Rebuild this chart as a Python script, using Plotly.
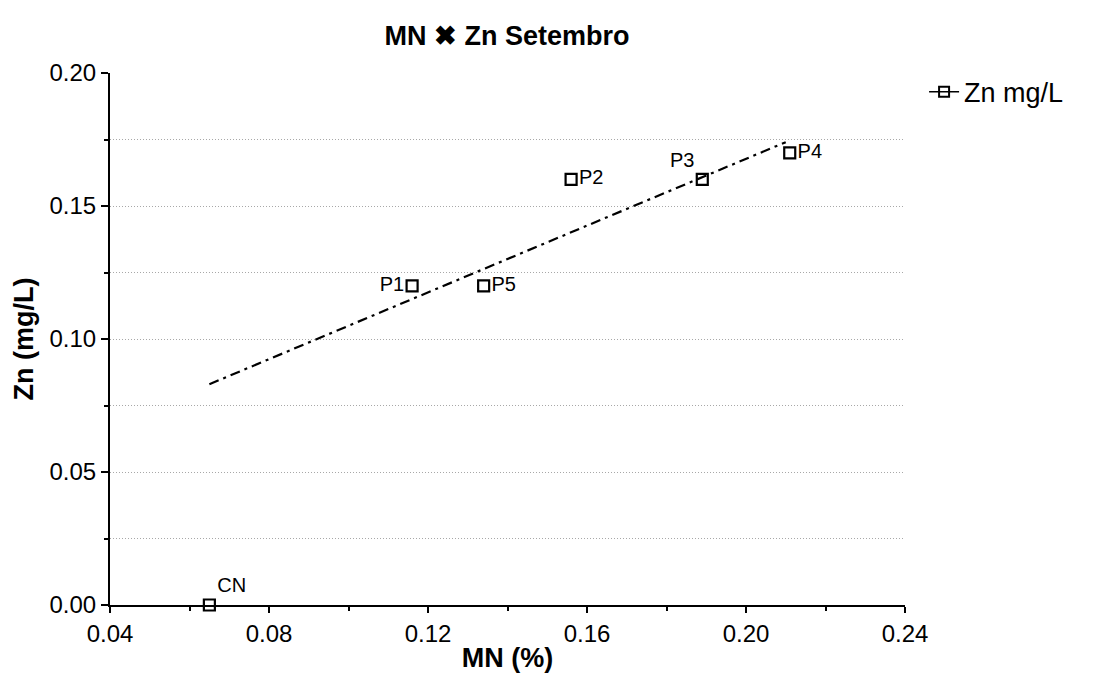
import plotly.graph_objects as go

# Data
labels = ["CN", "P1", "P5", "P2", "P3", "P4"]
mn_pct = [0.065, 0.116, 0.134, 0.156, 0.189, 0.211]
zn_mgl = [0.0, 0.12, 0.12, 0.16, 0.16, 0.17]
trend_x = [0.065, 0.210]
trend_y = [0.083, 0.174]

label_pos = ["top right", "middle left", "middle right", "middle right", "top left", "middle right"]

FONT = "Liberation Sans, Arial, sans-serif"
GRID = "#a8a8a8"

fig = go.Figure()

fig.add_trace(go.Scatter(
    x=trend_x, y=trend_y, mode="lines",
    line=dict(color="black", width=2.2, dash="10px,5px,3px,5px"),
    showlegend=False, hoverinfo="skip", cliponaxis=False,
))

fig.add_trace(go.Scatter(
    x=mn_pct, y=zn_mgl, mode="markers+text",
    text=labels, textposition=label_pos,
    textfont=dict(family=FONT, size=20, color="black"),
    marker=dict(symbol="square-open", size=11, color="black", line=dict(width=2.2, color="black")),
    showlegend=False, cliponaxis=False,
))

# legend entry
fig.add_trace(go.Scatter(
    x=[None], y=[None], mode="lines+markers", name="Zn mg/L",
    marker=dict(symbol="square-open", size=10, color="black", line=dict(width=2, color="black")),
    line=dict(color="black", width=1.5),
))

fig.update_layout(
    width=1110, height=672,
    margin=dict(l=102, r=213, t=65, b=75),
    plot_bgcolor="white", paper_bgcolor="white",
    font=dict(family=FONT, color="black", size=20),
    title=dict(text="<b>MN ✖ Zn Setembro</b>", x=499 / 1110, xanchor="center",
               y=1 - 28 / 672, yanchor="middle", font=dict(size=27, family=FONT, color="black")),
    legend=dict(x=1.024, y=1.01, xanchor="left", yanchor="top", font=dict(size=27, family=FONT),
                bgcolor="rgba(0,0,0,0)", itemwidth=30),
    showlegend=True,
)

fig.update_xaxes(
    range=[0.04, 0.24], dtick=0.04, tick0=0.04, tickformat=".2f",
    ticks="outside", ticklen=6, tickwidth=2, tickcolor="black",
    showline=True, linecolor="black", linewidth=2,
    showgrid=False, zeroline=False, automargin=False,
    minor=dict(dtick=0.02, ticks="outside", ticklen=4, tickwidth=2, tickcolor="black", showgrid=False),
    tickfont=dict(size=24, family=FONT, color="black"),
    title=dict(text="<b>MN (%)</b>", font=dict(size=27, family=FONT, color="black"), standoff=2),
)

fig.update_yaxes(
    range=[0, 0.2], dtick=0.05, tick0=0, tickformat=".2f",
    ticks="outside", ticklen=7, tickwidth=2, tickcolor="black",
    showline=True, linecolor="black", linewidth=2,
    showgrid=True, gridcolor=GRID, griddash="1px,2px", gridwidth=1,
    zeroline=False, automargin=False,
    minor=dict(dtick=0.025, ticks="outside", ticklen=4, tickwidth=2, tickcolor="black",
               showgrid=True, gridcolor=GRID, griddash="1px,2px", gridwidth=1),
    tickfont=dict(size=24, family=FONT, color="black"),
    title=dict(text="<b>Zn (mg/L)</b>", font=dict(size=27, family=FONT, color="black"), standoff=8),
)

fig.write_html("out.html")
